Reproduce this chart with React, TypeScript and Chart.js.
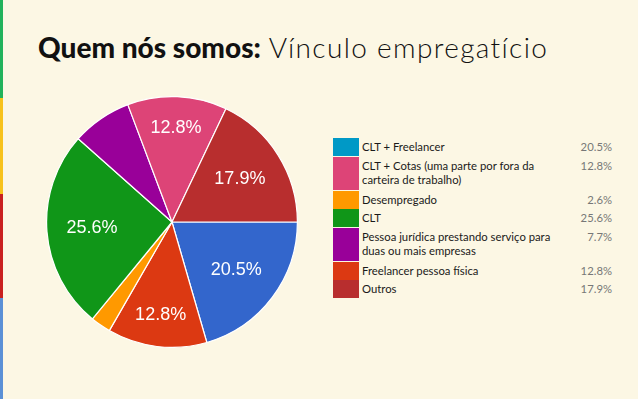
import React, { useEffect, useRef } from "react";
import { Chart, registerables } from "chart.js";

Chart.register(...registerables);

// ---- data (legend order) ----
const labelLines: string[][] = [
  ["CLT + Freelancer"],
  ["CLT + Cotas (uma parte por fora da", "carteira de trabalho)"],
  ["Desempregado"],
  ["CLT"],
  ["Pessoa jurídica prestando serviço para", "duas ou mais empresas"],
  ["Freelancer pessoa física"],
  ["Outros"],
];
const values: number[] = [20.5, 12.8, 2.6, 25.6, 7.7, 12.8, 17.9];
const legendColors: string[] = ["#0099c6", "#dd4477", "#ff9900", "#109618", "#990099", "#dc3912", "#b82e2e"];
const pieColors: string[] = ["#3366cc", "#dd4477", "#ff9900", "#109618", "#990099", "#dc3912", "#b82e2e"];
// clockwise order of slices in the pie, starting at 3 o'clock
const pieOrder: number[] = [0, 5, 2, 3, 4, 1, 6];

const BG = "#fcf7e4";

const sliceLabels = {
  id: "sliceLabels",
  afterDatasetsDraw(chart: any) {
    const ctx = chart.ctx;
    const meta = chart.getDatasetMeta(0);
    const data = chart.data.datasets[0].data as number[];
    ctx.save();
    ctx.fillStyle = "#ffffff";
    ctx.font = "18px 'Liberation Sans', Arial, sans-serif";
    ctx.textAlign = "center";
    ctx.textBaseline = "middle";
    meta.data.forEach((arc: any, i: number) => {
      const v = data[i];
      if (v < 10) return;
      const { x, y, startAngle, endAngle, outerRadius } = arc.getProps(
        ["x", "y", "startAngle", "endAngle", "outerRadius"],
        true
      );
      const mid = (startAngle + endAngle) / 2;
      const f = v < 15 ? 0.75 : 0.64;
      ctx.fillText(v.toFixed(1) + "%", x + Math.cos(mid) * outerRadius * f, y + Math.sin(mid) * outerRadius * f);
    });
    ctx.restore();
  },
};

function App() {
  const ref = useRef<HTMLCanvasElement | null>(null);

  useEffect(() => {
    if (!ref.current) return;
    const chart = new Chart(ref.current, {
      type: "pie",
      data: {
        labels: pieOrder.map((i) => labelLines[i].join(" ")),
        datasets: [
          {
            data: pieOrder.map((i) => values[i]),
            backgroundColor: pieOrder.map((i) => pieColors[i]),
            borderColor: "#ffffff",
            borderWidth: 1.2,
          },
        ],
      },
      options: {
        animation: false,
        responsive: false,
        rotation: 90,
        layout: { padding: 0 },
        plugins: { legend: { display: false }, tooltip: { enabled: false } },
      },
      plugins: [sliceLabels],
    });
    return () => chart.destroy();
  }, []);

  const stripe = ["#21b25b", "#f7c21b", "#c9201f", "#5b90d6"];
  const stripeH = [98, 96, 104, 101];

  let rowTop = 138;
  const rows = labelLines.map((lines, i) => {
    const h = lines.length > 1 ? 34 : 18.5;
    const top = rowTop;
    rowTop += h;
    return (
      <div key={i} style={{ position: "absolute", left: 333, top, width: 285, height: h }}>
        <div style={{ position: "absolute", left: 0, top: 0, width: 26, height: h - 0.5, background: legendColors[i] }} />
        <div
          style={{
            position: "absolute",
            left: 29,
            top: 2,
            lineHeight: "14px",
            fontSize: 11.3,
            fontFamily: "Lato, sans-serif",
            color: "#1a1a1a",
            whiteSpace: "nowrap",
          }}
        >
          {lines.map((l, k) => (
            <div key={k}>{l}</div>
          ))}
        </div>
        <div
          style={{
            position: "absolute",
            right: 6,
            top: 2,
            lineHeight: "14px",
            fontSize: 11.3,
            fontFamily: "Lato, sans-serif",
            color: "#777",
          }}
        >
          {values[i].toFixed(1) + "%"}
        </div>
      </div>
    );
  });

  let sy = 0;
  return (
    <div style={{ position: "fixed", left: 0, top: 0, width: 638, height: 399, background: BG, overflow: "hidden" }}>
      {stripe.map((c, i) => {
        const t = sy;
        sy += stripeH[i];
        return <div key={i} style={{ position: "absolute", left: 0, top: t, width: 3, height: stripeH[i], background: c }} />;
      })}
      <div
        style={{
          position: "absolute",
          left: 38,
          top: 30,
          fontSize: 28,
          lineHeight: "34px",
          color: "#111",
          whiteSpace: "nowrap",
          fontFamily: "Lato, sans-serif",
        }}
      >
        <span style={{ fontWeight: 900 }}>Quem nós somos:</span>
        <span style={{ fontWeight: 300, letterSpacing: "1.35px" }}> Vínculo empregatício</span>
      </div>
      <canvas ref={ref} width={252} height={252} style={{ position: "absolute", left: 46, top: 96, width: 252, height: 252 }} />
      {rows}
    </div>
  );
}

export default App;
